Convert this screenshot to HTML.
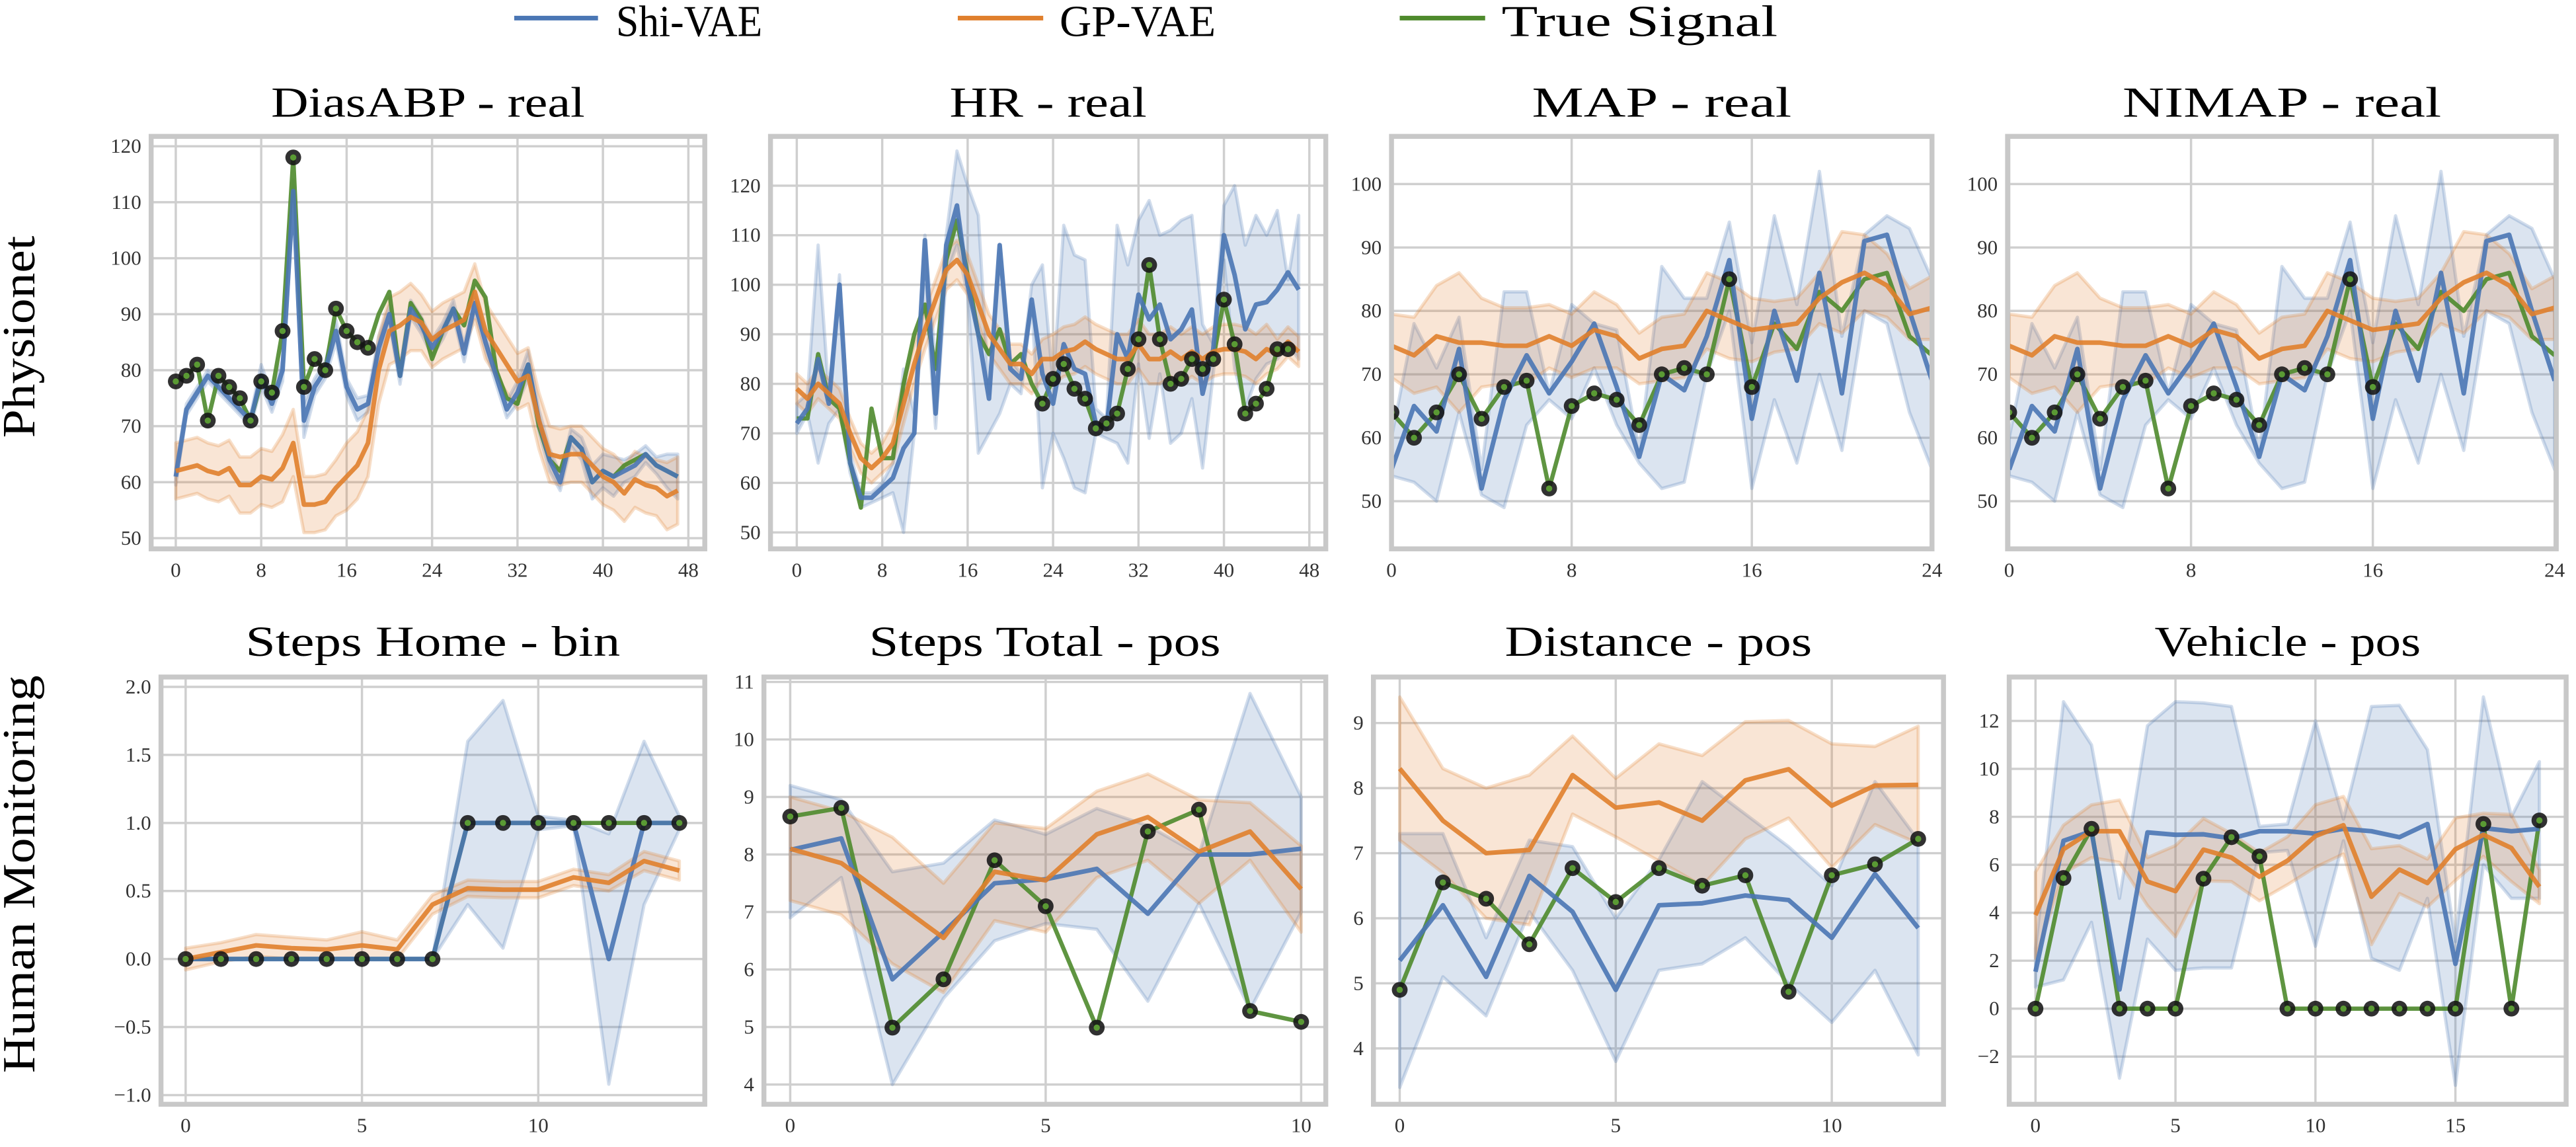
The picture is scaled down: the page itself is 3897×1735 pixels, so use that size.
<!DOCTYPE html>
<html><head><meta charset="utf-8"><style>
html,body{margin:0;padding:0;background:#fff;}
svg{display:block;}
text{font-family:"Liberation Serif",serif;}
</style></head><body>
<svg id="fig" xmlns="http://www.w3.org/2000/svg" width="3897" height="1735" viewBox="0 0 1568 698" preserveAspectRatio="none">
<g>
 <line x1="313" y1="11" x2="364" y2="11" stroke="#4a76b4" stroke-width="2.8"/>
 <text x="375" y="22" font-size="27" textLength="89" lengthAdjust="spacingAndGlyphs">Shi-VAE</text>
 <line x1="583" y1="11" x2="635" y2="11" stroke="#e07f2c" stroke-width="2.8"/>
 <text x="645" y="22" font-size="27" textLength="95" lengthAdjust="spacingAndGlyphs">GP-VAE</text>
 <line x1="852" y1="11" x2="904" y2="11" stroke="#4e8a2c" stroke-width="2.8"/>
 <text x="914" y="22" font-size="27" textLength="168" lengthAdjust="spacingAndGlyphs">True Signal</text>
</g>
<text transform="translate(21,205) rotate(-90)" text-anchor="middle" font-size="28" textLength="123" lengthAdjust="spacingAndGlyphs">Physionet</text>
<text transform="translate(21,532) rotate(-90)" text-anchor="middle" font-size="28" textLength="242" lengthAdjust="spacingAndGlyphs">Human Monitoring</text>
</svg>
<script>
// ---------- DATA ----------
const titles = ["DiasABP - real","HR - real","MAP - real","NIMAP - real","Steps Home - bin","Steps Total - pos","Distance - pos","Vehicle - pos"];

// DiasABP
const diasTruth = [78,79,81,71,79,77,75,71,78,76,87,118,77,82,80,91,87,85,84,90,94,79,92,89,82,87,91,88,96,93,80,75,74,81,70,64,62,68,66,60,62,61,63,64,65,63,62,61];
const diasObs = [0,1,2,3,4,5,6,7,8,9,10,11,12,13,14,15,16,17,18];
const diasShi = [61,73,76,79,77,75,73,71,79,74,80,112,71,77,80,87,77,73,74,84,90,79,91,88,84,87,91,83,92,85,79,73,76,81,71,64,60,68,66,60,62,61,62,63,65,63,62,61];
const diasShiErr = [1.5,1,1,1,1,1,1,1,2,1.5,2,2,3,1.5,1.5,2,1.5,2,1.5,2,1.5,1.5,1.5,1.5,1.5,1.5,1.5,1.5,1.5,1.5,1.5,1.5,2,2.5,2,2,1.5,1.5,2,3,3,3.5,2,2,1.5,1.5,3,4];
const diasGp = [62,62.5,63,62,61.5,62.5,59.5,59.5,61,60.5,62.5,67,56,56,56.5,59,61,63,67,80,87,88,89.5,88.5,85.5,87,88,89,94,87,84,81,78,79,71,65,64.5,65,65,63,61,60,58,60.5,59.5,59,57.5,58.5];
const diasGpErr = [5,5,5,5,5,5,5,5,5,5,6,6,5,5,5,5,6,6,6,6,6,6,6,5,5,5,5,5,5,5,5,5,5,5,5,5,5,5,5,5,5,5,5,5,5,5,6,6];

// HR
const hrTruth = [73,73,86,77,75,64,55,75,65,65,80,90,96,83,105,113,102,90,86,91,84,86,80,76,81,84,79,77,71,72,74,83,89,104,89,80,81,85,83,85,97,88,74,76,79,87,87];
const hrObs = [23,24,25,26,27,28,29,30,31,32,33,34,35,36,37,38,39,40,41,42,43,44,45,46];
const hrShi = [72,75,85,76,100,64,57,57,59,61,67,70,109,74,108,116,100,90,77,108,83,81,97,82,76,88,83,82,72,71,90,85,98,93,96,89,91,95,78,87,110,102,91,96,96.5,99,102.5,99];
const hrShiLo = [70,74,64,72,75,62,55,56,57,58,50,70,100,71,102,108,98,66,70,74,80,78,96,59,70,65,59,58,70,69,68,64,84,69,82,68,70,77,63,82,105,83,75,81,84,85,88,85];
const hrShiHi = [76,78,108,78,102,66,58,58,60,64,83,74,110,84,110,127,120,114,78,108,85,82,100,104,80,112,106,105,75,73,112,104,113,117,110,111,113,114,92,88,116,120,108,114,110,115,101,114];
const hrGp = [79,77,80,78,76,70,65,63,65,68,76,84,91,97,103,105,102,96,90,87,84,84,82,85,85,86.5,87,88.5,87,86,85,85,88,85,85,86.5,85,86.5,85,86.5,87,87,86.5,85,87,86,88.5,86.5];
const hrGpErr = [3,3,3,3,3,3,3,3,3,4,4,4,4,4,4,4,4,4,4,4,4,4,4,4,5,5,5,5,5,5,5,5,5,5,5,5,5,5,5,5,5,5,5,5,5,3,3,3];

// MAP
const mapTruth = [64,60,64,70,63,68,69,52,65,67,66,62,70,71,70,85,68,78,74,83,80,85,86,76,73];
const mapObs = [0,1,2,3,4,5,6,7,8,9,10,11,12,13,14,15,16];
const mapShi = [55,65,61,74,52,66,73,67,72,78,68,57,70,67.5,76,88,63,80,69,86,67,91,92,80,69];
const mapShiLo = [54,53,50,64,51,49,62,66,63,71,62,56,52,53,70,80,52,66,56,70,58,80,78,64,55];
const mapShiHi = [60,78,71,79,55,83,83,67,81,78,77,58,87,82,82,94,75,95,81,102,76,92,95,93,85];
const mapGp = [74.5,73,76,75,75,74.5,74.5,76,74.5,77,76,72.5,74,74.5,80,78.5,77,77.5,78,82,84.5,86,84,79.5,80.5];
const mapGpErr = [5,6,8,11,7,6,6,5,5,6,5,4,5,5,6,6,5,4,4,4,8,6,5,4,5];

// NIMAP
const nimapTruth = [64,60,64,70,63,68,69,52,65,67,66,62,70,71,70,85,68,78,74,83,80,85,86,76,73];
const nimapObs = [0,1,2,3,4,5,6,7,8,9,10,11,12,13,14,15,16];
const nimapShi = [55,65,61,74,52,66,73,67,72,78,68,57,70,67.5,76,88,63,80,69,86,67,91,92,80,69];
const nimapShiLo = [54,53,50,64,51,49,62,66,63,71,62,56,52,53,70,80,52,66,56,70,58,80,78,64,55];
const nimapShiHi = [60,78,71,79,55,83,83,67,81,78,77,58,87,82,82,94,75,95,81,102,76,92,95,93,85];
const nimapGp = [74.5,73,76,75,75,74.5,74.5,76,74.5,77,76,72.5,74,74.5,80,78.5,77,77.5,78,82,84.5,86,84,79.5,80.5];
const nimapGpErr = [5,6,8,11,7,6,6,5,5,6,5,4,5,5,6,6,5,4,4,4,8,6,5,4,5];

// Steps Home
const homeTruth = [0,0,0,0,0,0,0,0,1,1,1,1,1,1,1];
const homeObs = [0,1,2,3,4,5,6,7,8,9,10,11,12,13,14];
const homeShi = [0,0,0,0,0,0,0,0,1,1,1,1,0,1,1];
const homeShiLo = [0,0,0,0,0,0,0,0,0.4,0.08,0.95,0.98,-0.92,0.4,0.95];
const homeShiHi = [0,0,0,0,0,0,0,0,1.6,1.9,1.05,1.02,0.92,1.6,1.05];
const homeGp = [0,0.05,0.1,0.08,0.07,0.1,0.07,0.4,0.52,0.51,0.51,0.6,0.56,0.72,0.65];
const homeGpErr = [0.08,0.07,0.08,0.08,0.07,0.1,0.07,0.07,0.06,0.06,0.06,0.06,0.06,0.07,0.07];

// Steps Total
const totalTruth = [8.66,8.81,4.99,5.83,7.9,7.1,4.99,8.4,8.78,5.28,5.09];
const totalObs = [0,1,2,3,4,5,6,7,8,9,10];
const totalShi = [8.08,8.28,5.83,6.65,7.5,7.57,7.75,6.97,8.0,8.0,8.1];
const totalShiLo = [6.9,7.6,4.0,5.5,6.5,6.8,6.7,5.45,7.15,5.3,7.0];
const totalShiHi = [9.2,8.95,7.7,7.85,8.6,8.35,8.8,8.5,8.0,10.8,9.0];
const totalGp = [8.1,7.85,7.2,6.55,7.7,7.55,8.35,8.65,8.05,8.4,7.4];
const totalGpErr = [0.9,0.9,1.1,0.95,0.85,0.9,0.75,0.75,0.9,0.5,0.75];

// Distance
const distTruth = [4.9,6.55,6.3,5.6,6.77,6.25,6.77,6.5,6.66,4.87,6.66,6.83,7.22];
const distObs = [0,1,2,3,4,5,6,7,8,9,10,11,12];
const distShi = [5.35,6.2,5.1,6.65,6.1,4.9,6.2,6.23,6.35,6.28,5.7,6.68,5.85];
const distShiLo = [3.4,5.1,4.5,6.1,5.2,3.8,5.2,5.3,5.7,5.0,4.4,5.2,3.9];
const distShiHi = [7.3,7.3,5.7,7.2,7.1,6.0,6.9,8.1,7.6,7.1,6.5,8.1,7.2];
const distGp = [8.3,7.5,7.0,7.05,8.2,7.7,7.78,7.5,8.12,8.29,7.73,8.04,8.05];
const distGpErr = [1.1,0.8,1.0,1.15,0.6,0.45,0.9,1.0,0.9,0.75,0.95,0.6,0.9];

// Vehicle
const vehTruth = [0,5.45,7.5,0,0,0,5.42,7.15,6.35,0,0,0,0,0,0,0,7.7,0,7.85];
const vehObs = [0,1,2,3,4,5,6,7,8,9,10,11,12,13,14,15,16,17,18];
const vehShi = [1.54,7.0,7.4,0.8,7.35,7.25,7.27,7.1,7.4,7.4,7.3,7.5,7.4,7.15,7.7,1.87,7.53,7.4,7.5];
const vehShiLo = [0.9,1.2,3.6,-2.9,2.9,1.6,1.7,1.7,6.5,6.6,2.6,7.0,2.1,1.6,4.6,-3.2,6.0,4.6,4.6];
const vehShiHi = [2.5,12.8,11.0,4.6,11.8,12.8,12.75,12.6,7.6,7.7,12.0,7.9,12.6,12.65,10.8,2.8,13.0,8.0,10.3];
const vehGp = [3.9,6.65,7.4,7.4,5.3,4.9,6.63,6.3,5.5,6.17,7.2,7.65,4.67,5.8,5.24,6.65,7.25,6.7,5.08];
const vehGpErr = [1.8,1.0,1.1,1.3,1.0,1.9,1.3,1.0,1.0,1.0,1.3,1.2,2.0,1.0,1.0,1.3,0.9,1.4,0.7];

// ---------- LAYOUT (pixel geometry, not data) ----------
const panels = [
 {key:"diasabp", f:[92,83,429,334], x:[0,107,48,419], y:[50,327.5,120,89], xt:[0,8,16,24,32,40,48], yt:[50,60,70,80,90,100,110,120], dec:0, tw:191,
  truth:diasTruth, obs:diasObs, shi:diasShi, shiErr:diasShiErr, gp:diasGp, gpErr:diasGpErr},
 {key:"hr", f:[469,83,807,334], x:[0,485,48,797], y:[50,324,120,113], xt:[0,8,16,24,32,40,48], yt:[50,60,70,80,90,100,110,120], dec:0, tw:120,
  truth:hrTruth, obs:hrObs, shi:hrShi, shiLo:hrShiLo, shiHi:hrShiHi, gp:hrGp, gpErr:hrGpErr},
 {key:"map", f:[847,83,1176,334], x:[0,847,24,1176], y:[50,305,100,112], xt:[0,8,16,24], yt:[50,60,70,80,90,100], dec:0, tw:158,
  truth:mapTruth, obs:mapObs, shi:mapShi, shiLo:mapShiLo, shiHi:mapShiHi, gp:mapGp, gpErr:mapGpErr},
 {key:"nimap", f:[1222,83,1556,334], x:[0,1223,24,1555], y:[50,305,100,112], xt:[0,8,16,24], yt:[50,60,70,80,90,100], dec:0, tw:194,
  truth:nimapTruth, obs:nimapObs, shi:nimapShi, shiLo:nimapShiLo, shiHi:nimapShiHi, gp:nimapGp, gpErr:nimapGpErr},
 {key:"steps-home", f:[98,412,429,672], x:[0,113,14,413.5], y:[0,583.6,2,418], xt:[0,5,10], yt:[-1,-0.5,0,0.5,1,1.5,2], dec:1, tw:228,
  truth:homeTruth, obs:homeObs, shi:homeShi, shiLo:homeShiLo, shiHi:homeShiHi, gp:homeGp, gpErr:homeGpErr},
 {key:"steps-total", f:[465,412,807,672], x:[0,481,10,792], y:[4,660,11,415], xt:[0,5,10], yt:[4,5,6,7,8,9,10,11], dec:0, tw:214,
  truth:totalTruth, obs:totalObs, shi:totalShi, shiLo:totalShiLo, shiHi:totalShiHi, gp:totalGp, gpErr:totalGpErr},
 {key:"distance", f:[836,412,1183,672], x:[0,852,10,1115], y:[4,638,9,440], xt:[0,5,10], yt:[4,5,6,7,8,9], dec:0, tw:187,
  truth:distTruth, obs:distObs, shi:distShi, shiLo:distShiLo, shiHi:distShiHi, gp:distGp, gpErr:distGpErr},
 {key:"vehicle", f:[1223,412,1562,672], x:[0,1239,15,1494.6], y:[-2,643,12,438.7], xt:[0,5,10,15], yt:[-2,0,2,4,6,8,10,12], dec:0, tw:162,
  truth:vehTruth, obs:vehObs, shi:vehShi, shiLo:vehShiLo, shiHi:vehShiHi, gp:vehGp, gpErr:vehGpErr}
];

const NS = "http://www.w3.org/2000/svg";
const svg = document.getElementById("fig");
const BLUE="#4a76b4", ORANGE="#e07f2c", GREEN="#4e8a2c";
function mk(tag, attrs, parent){
  const e = document.createElementNS(NS, tag);
  for (const k in attrs) e.setAttribute(k, attrs[k]);
  parent.appendChild(e);
  return e;
}
function fmt(v, dec){ const s = v.toFixed(dec); return s.startsWith("-") ? "\u2212"+s.slice(1) : s; }

panels.forEach((p, pi) => {
  const sx = v => p.x[1] + (v - p.x[0]) * (p.x[3]-p.x[1]) / (p.x[2]-p.x[0]);
  const sy = v => p.y[1] + (v - p.y[0]) * (p.y[3]-p.y[1]) / (p.y[2]-p.y[0]);
  const [x0,y0,x1,y1] = p.f;
  const g = mk("g", {}, svg);
  
  
  const clipId = "clip"+pi;
  const cp = mk("clipPath", {id:clipId}, g);
  mk("rect", {x:x0, y:y0, width:x1-x0, height:y1-y0}, cp);

  const title = mk("text", {x:(x0+x1)/2, y: y0 < 200 ? 71 : 399, "text-anchor":"middle", "font-size":26, textLength:p.tw, lengthAdjust:"spacingAndGlyphs"}, g);
  title.textContent = titles[pi];
  
  

  const grid = mk("g", {stroke:"#cfcfcf", "stroke-width":1.4}, g);
  
  
  p.xt.forEach(t => {
    mk("line", {x1:sx(t), x2:sx(t), y1:y0, y2:y1}, grid);
    const tl = mk("text", {x:sx(t), y:y1+17, "text-anchor":"middle", "font-size":12.5, fill:"#333"}, g);
    tl.textContent = fmt(t, 0);
    
    
  });
  p.yt.forEach(t => {
    mk("line", {x1:x0, x2:x1, y1:sy(t), y2:sy(t)}, grid);
    const tl = mk("text", {x:x0-6, y:sy(t)+4, "text-anchor":"end", "font-size":12.5, fill:"#333"}, g);
    tl.textContent = fmt(t, p.dec);
    
    
  });

  const plot = mk("g", {"clip-path":"url(#"+clipId+")"}, g);
  
  

  function band(lo, hi, color, name){
    let d = "";
    lo.forEach((v,i)=>{ d += (i?"L":"M") + sx(i).toFixed(2) + "," + sy(v).toFixed(2); });
    for (let i = hi.length-1; i >= 0; i--) d += "L" + sx(i).toFixed(2) + "," + sy(hi[i]).toFixed(2);
    d += "Z";
    const b = mk("path", {d:d, fill:color, "fill-opacity":0.2, stroke:color, "stroke-opacity":0.25, "stroke-width":2, "stroke-linejoin":"round"}, plot);
    
    
  }
  function line(vals, color, name, w){
    const pts = vals.map((v,i)=> sx(i).toFixed(2)+","+sy(v).toFixed(2)).join(" ");
    const l = mk("polyline", {points:pts, fill:"none", stroke:color, "stroke-width":w, "stroke-opacity":0.9, "stroke-linejoin":"round"}, plot);
    
    
  }
  const shiLo = p.shiLo || p.shi.map((v,i)=> v - p.shiErr[i]);
  const shiHi = p.shiHi || p.shi.map((v,i)=> v + p.shiErr[i]);
  const gpLo = p.gp.map((v,i)=> v - p.gpErr[i]);
  const gpHi = p.gp.map((v,i)=> v + p.gpErr[i]);
  band(shiLo, shiHi, BLUE, "shi-vae-band");
  band(gpLo, gpHi, ORANGE, "gp-vae-band");
  line(p.truth, GREEN, "true-signal-line", 2.6);
  line(p.shi, BLUE, "shi-vae-line", 2.8);
  line(p.gp, ORANGE, "gp-vae-line", 2.8);
  p.obs.forEach(i => {
    const m = mk("circle", {cx:sx(i), cy:sy(p.truth[i]), r:4.8, fill:"#141414", "fill-opacity":0.88}, plot);
    
    
    const c = mk("circle", {cx:sx(i), cy:sy(p.truth[i]), r:1.9, fill:"#5a9a34"}, plot);
    
    
  });

  const fr = mk("rect", {x:x0, y:y0, width:x1-x0, height:y1-y0, fill:"none", stroke:"#c8c8c8", "stroke-width":3}, g);
  
  
});
</script>
</body></html>
